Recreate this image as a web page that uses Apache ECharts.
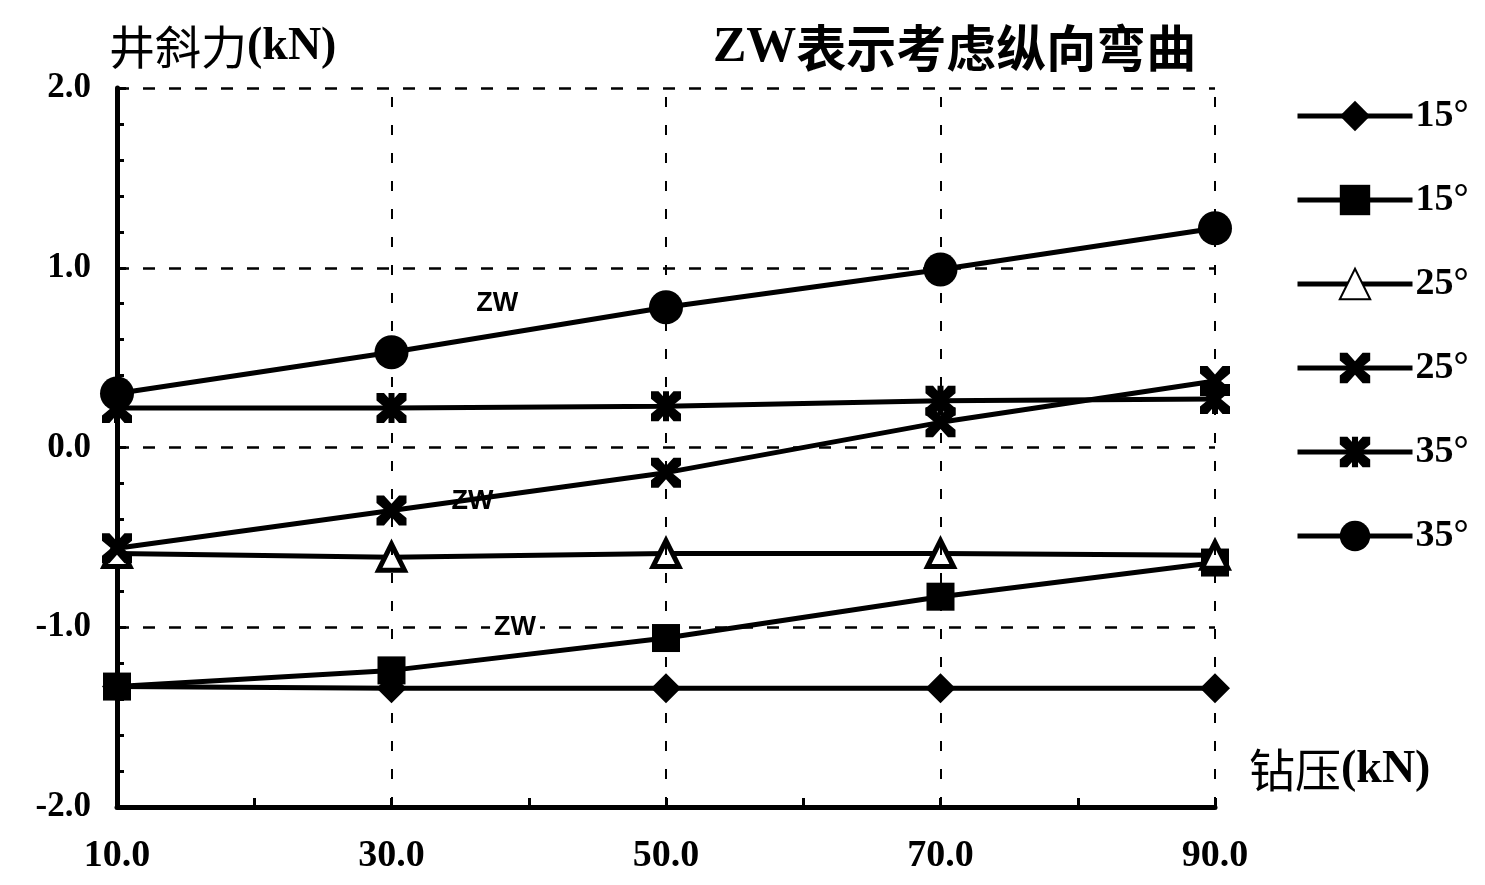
<!DOCTYPE html>
<html><head><meta charset="utf-8">
<script src="https://cdn.jsdelivr.net/npm/echarts@6/dist/echarts.min.js"></script>
<style>html,body{margin:0;padding:0;background:#fff}#c{width:1485px;height:885px}</style>
</head><body><div id="c"></div>
<script>
const xValues = [10, 30, 50, 70, 90];
const xTickLabels = [10, 30, 50, 70, 90];
const gridX = [30, 50, 70, 90];
const seriesNames = ['15°', '15°ZW', '25°', '25°ZW', '35°', '35°ZW'];
const s15 = [-1.33, -1.34, -1.34, -1.34, -1.34];
const s15zw = [-1.33, -1.24, -1.06, -0.83, -0.64];
const s25 = [-0.59, -0.61, -0.59, -0.59, -0.60];
const s25zw = [-0.56, -0.35, -0.14, 0.14, 0.37];
const s35 = [0.22, 0.22, 0.23, 0.26, 0.27];
const s35zw = [0.30, 0.53, 0.78, 0.99, 1.22];
const zwNotes = [[37.7, 0.80], [35.9, -0.30], [39.0, -1.0]];

const serif = '"Liberation Serif","Noto Sans CJK SC",serif';
const cjk = '"Noto Sans CJK SC",sans-serif';
const X_PATH = 'path://M0,0 L2.5,0 L5,2.8 L7.5,0 L10,0 L10,2.5 L7,5 L10,7.5 L10,10 L7.5,10 L5,7.2 L2.5,10 L0,10 L0,7.5 L3,5 L0,2.5 Z';
const AST_PATH = 'path://M0,0 L2.5,0 L5,2.8 L7.5,0 L10,0 L10,2.5 L7,5 L10,7.5 L10,10 L7.5,10 L5,7.2 L2.5,10 L0,10 L0,7.5 L3,5 L0,2.5 Z M4,0 L6,0 L6,10 L4,10 Z';

function pairs(arr){ return xValues.map((x,i)=>[x, arr[i]]); }
function mkSeries(name, arr, symbol, size, extra){
  return Object.assign({
    name, type:'line', data: pairs(arr), symbol, symbolSize:size, z:3,
    lineStyle:{color:'#000', width:5},
    itemStyle:{color:'#000', borderColor:'#000', borderWidth:0},
    emphasis:{disabled:true}
  }, extra||{});
}
function note(pt, bg){
  return { symbol:'circle', symbolSize:0, silent:true,
    itemStyle:{color:'rgba(0,0,0,0)'},
    label:{show:true, position:'inside', formatter:'ZW', color:'#000', fontFamily:'"Liberation Sans",sans-serif', fontWeight:'bold', fontSize:27, backgroundColor: bg?'#fff':'transparent', padding:[0,4]},
    data:[{coord:pt}] };
}

const chart = echarts.init(document.getElementById('c'));
chart.setOption({
  animation:false,
  backgroundColor:'#fff',
  title:{ text:'{a|ZW}{b|表示考虑纵向弯曲}', left:708, top:18,
    textStyle:{ rich:{
      a:{fontFamily:'"Liberation Serif",serif', fontSize:50, fontWeight:'bold', color:'#000'},
      b:{fontFamily:cjk, fontSize:50, fontWeight:'bold', color:'#000'} } } },
  grid:{ left:117, right:270, top:88, bottom:78 },
  legend:{ orient:'vertical', left:1290, top:92, itemWidth:115, itemHeight:38, itemGap:46,
    data: seriesNames, formatter: n => n.replace('ZW',''),
    lineStyle:{width:5, color:'#000'},
    textStyle:{fontFamily:serif, fontSize:38, fontWeight:'bold', color:'#000', padding:[0,0,0,-2]} },
  xAxis:{ type:'value', min:10, max:90, interval:10,
    name:'{a|钻压}{b|(kN)}', nameLocation:'end', nameGap:34,
    nameTextStyle:{align:'left', verticalAlign:'middle', padding:[0,0,74,0],
      rich:{ a:{fontFamily:cjk, fontSize:46, color:'#000'}, b:{fontFamily:'"Liberation Serif",serif', fontSize:46, fontWeight:'bold', color:'#000'} } },
    axisLine:{show:true, onZero:false, lineStyle:{color:'#000', width:5}},
    axisTick:{show:true, inside:true, length:9, lineStyle:{color:'#000', width:3}},
    splitLine:{show:false},
    axisLabel:{ margin:30, color:'#000', fontFamily:serif, fontSize:38, fontWeight:'bold',
      formatter: v => xTickLabels.includes(v) ? v.toFixed(1) : '' } },
  yAxis:{ type:'value', min:-2, max:2, interval:1,
    name:'{a|井斜力}{b|(kN)}', nameLocation:'end', nameGap:18,
    nameTextStyle:{align:'left', verticalAlign:'bottom', padding:[0,0,0,-8],
      rich:{ a:{fontFamily:cjk, fontSize:46, color:'#000'}, b:{fontFamily:'"Liberation Serif",serif', fontSize:46, fontWeight:'bold', color:'#000'} } },
    axisLine:{show:true, onZero:false, lineStyle:{color:'#000', width:5}},
    axisTick:{show:true, inside:true, length:9, lineStyle:{color:'#000', width:3}},
    minorTick:{show:true, splitNumber:5, length:7, lineStyle:{color:'#000', width:3}},
    splitLine:{show:true, lineStyle:{color:'#000', width:2.5, type:[12,14]}},
    axisLabel:{ margin:26, color:'#000', fontFamily:serif, fontSize:35, fontWeight:'bold',
      formatter: v => v.toFixed(1) } },
  series:[
    { name:'grid', type:'line', data:[], z:1, silent:true,
      markLine:{ silent:true, symbol:'none', label:{show:false},
        lineStyle:{color:'#000', width:2, type:[10,18]},
        data: gridX.map(x=>({xAxis:x})) } },
    mkSeries(seriesNames[0], s15, 'diamond', 30),
    mkSeries(seriesNames[1], s15zw, 'rect', 28, {markPoint: note(zwNotes[2], true)}),
    mkSeries(seriesNames[2], s25, 'triangle', 26, {itemStyle:{color:'#fff', borderColor:'#000', borderWidth:5}}),
    mkSeries(seriesNames[3], s25zw, X_PATH, 30, {markPoint: note(zwNotes[1], false)}),
    mkSeries(seriesNames[4], s35, AST_PATH, 30),
    mkSeries(seriesNames[5], s35zw, 'circle', 34, {markPoint: note(zwNotes[0], false)})
  ]
});
</script></body></html>
